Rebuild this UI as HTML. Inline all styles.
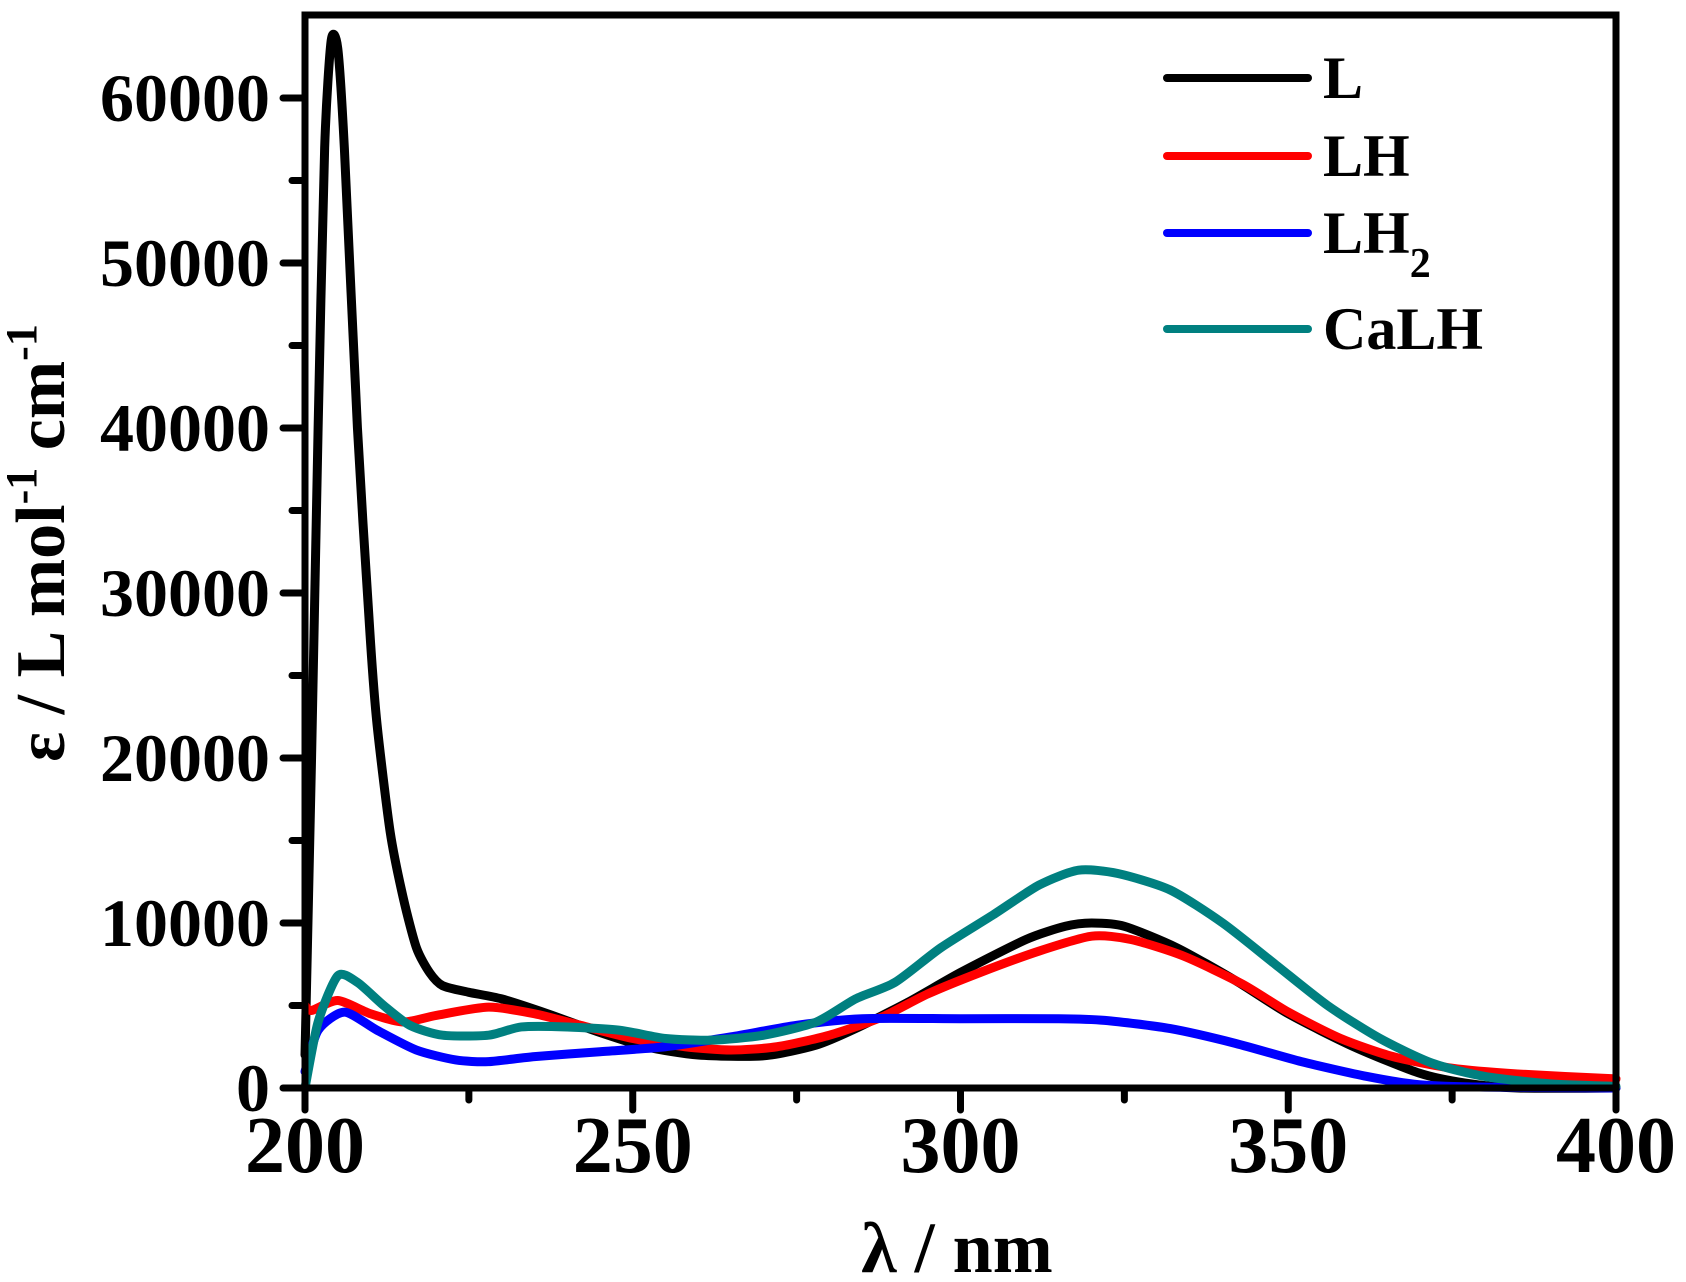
<!DOCTYPE html>
<html><head><meta charset="utf-8"><style>
html,body{margin:0;padding:0;background:#fff;}
svg{display:block;}
text{font-family:"Liberation Serif",serif;font-weight:bold;fill:#000;}
</style></head><body>
<svg id="s" width="1686" height="1282" viewBox="0 0 1686 1282" xmlns="http://www.w3.org/2000/svg">
<g id="curves" fill="none" stroke-width="9" stroke-linejoin="round" stroke-linecap="round"></g>
<rect x="305" y="15" width="1311" height="1073" fill="none" stroke="#000" stroke-width="7"/>
<g id="ticks" stroke="#000" stroke-width="7" stroke-linecap="round"></g>
<g font-size="68" text-anchor="end" id="ylab"></g>
<g font-size="80" text-anchor="middle" id="xlab"></g>
<text x="957" y="1272" font-size="72" text-anchor="middle">λ / nm</text>
<text transform="translate(64,543) rotate(-90)" font-size="70" text-anchor="middle">ε / L mol<tspan font-size="44" dy="-28">-1</tspan><tspan dy="28"> cm</tspan><tspan font-size="44" dy="-28">-1</tspan></text>
<g stroke-width="8" stroke-linecap="round">
<line x1="1167" y1="78" x2="1308" y2="78" stroke="#000"/>
<line x1="1167" y1="156" x2="1308" y2="156" stroke="#f00"/>
<line x1="1167" y1="233" x2="1308" y2="233" stroke="#00f"/>
<line x1="1167" y1="329" x2="1308" y2="329" stroke="#008080"/>
</g>
<g font-size="60">
<text x="1323" y="98">L</text>
<text x="1323" y="176">LH</text>
<text x="1323" y="253">LH<tspan font-size="42" dy="24">2</tspan></text>
<text x="1323" y="349">CaLH</text>
</g>
</svg>
<script>
var NS="http://www.w3.org/2000/svg";
function X(l){return 305+(l-200)*6.555;}
function Y(e){return 1088-e*0.0165;}
var data={
"#000":[[200,2000],[201,20000],[202,40000],[203,57000],[204,63500],[205,63000],[206,57000],[208,40000],[210,27000],[211,22000],[213,15500],[215,11500],[217,8500],[219,7000],[221,6200],[225,5800],[230,5400],[237,4500],[244,3500],[252,2500],[260,2000],[270,1950],[278,2600],[284,3600],[292,5200],[300,7000],[310,9000],[316,9800],[320,10000],[325,9800],[333,8500],[342,6500],[350,4500],[360,2500],[370,900],[377,300],[385,0],[400,0]],
"#f00":[[200,5000],[201,4700],[205,5300],[210,4500],[215,4000],[220,4400],[228,4900],[235,4500],[242,3800],[250,3000],[258,2500],[265,2300],[272,2500],[280,3200],[288,4300],[295,5700],[303,7000],[312,8300],[320,9200],[326,9000],[334,8000],[343,6300],[350,4600],[358,3000],[366,1900],[375,1200],[385,850],[400,550]],
"#00f":[[200,1000],[202,3500],[206,4600],[211,3500],[217,2300],[223,1700],[228,1600],[235,1900],[245,2200],[255,2500],[265,3100],[275,3800],[285,4200],[300,4200],[315,4200],[322,4100],[332,3600],[342,2700],[352,1600],[362,700],[370,200],[380,50],[400,0]],
"#008080":[[200,0],[202,4000],[205,6800],[208,6400],[212,5000],[216,3800],[221,3200],[228,3200],[233,3700],[240,3700],[248,3500],[255,3000],[262,2900],[270,3200],[278,4000],[284,5400],[290,6400],[297,8500],[305,10500],[312,12300],[318,13200],[324,13000],[332,12000],[340,10000],[348,7500],[356,5000],[364,3000],[372,1500],[380,700],[390,250],[400,100]]};
var g=document.getElementById("curves");
for(var c in data){var p=data[c].map(function(d){return [X(d[0]),Y(d[1])];});
var s="M"+p[0][0]+","+p[0][1];
for(var i=0;i<p.length-1;i++){var p0=p[Math.max(i-1,0)],p1=p[i],p2=p[i+1],p3=p[Math.min(i+2,p.length-1)];
var t=0.12;s+=" C"+(p1[0]+(p2[0]-p0[0])*t)+","+(p1[1]+(p2[1]-p0[1])*t)+" "+(p2[0]-(p3[0]-p1[0])*t)+","+(p2[1]-(p3[1]-p1[1])*t)+" "+p2[0]+","+p2[1];}
var e=document.createElementNS(NS,"path");e.setAttribute("d",s);e.setAttribute("stroke",c);g.appendChild(e);}
var tk=document.getElementById("ticks"),yl=document.getElementById("ylab"),xl=document.getElementById("xlab");
function L(a,b,c,d){var e=document.createElementNS(NS,"line");e.setAttribute("x1",a);e.setAttribute("y1",b);e.setAttribute("x2",c);e.setAttribute("y2",d);tk.appendChild(e);}
function T(par,x,y,s){var e=document.createElementNS(NS,"text");e.setAttribute("x",x);e.setAttribute("y",y);e.textContent=s;par.appendChild(e);}
for(var v=0;v<=60000;v+=5000){var y=Y(v);if(v%10000==0){L(283,y,305,y);T(yl,270,y+23,String(v));}else L(292,y,305,y);}
for(var l=200;l<=400;l+=25){var x=X(l);if(l%50==0){L(x,1088,x,1110);T(xl,x,1172,String(l));}else L(x,1088,x,1100);}
</script>
</body></html>
